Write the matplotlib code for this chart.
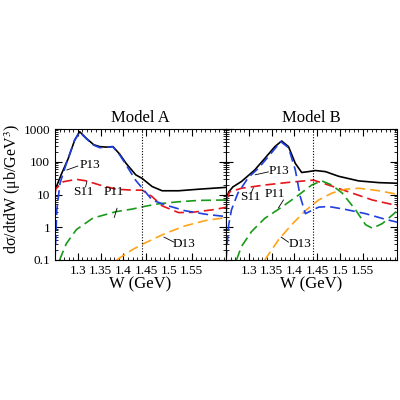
import matplotlib
matplotlib.use("Agg")
import matplotlib.pyplot as plt
from matplotlib.ticker import FixedLocator, MultipleLocator, FixedFormatter, LogLocator, NullFormatter

plt.rcParams["font.family"] = ["Liberation Serif", "DejaVu Serif"]
plt.rcParams["mathtext.fontset"] = "stix"

# ── Model A ──────────────────────────────────────────────
a_tot_w = [1.252, 1.265, 1.279, 1.293, 1.304, 1.319, 1.335, 1.348, 1.362, 1.377, 1.392, 1.406, 1.427, 1.441, 1.463, 1.485, 1.521, 1.565, 1.627]
a_tot_v = [16, 45, 125, 450, 830, 515, 330, 290, 280, 290, 170, 89, 40, 31, 17.5, 13, 13, 14.5, 16.6]

a_p13_w = [1.250, 1.254, 1.261, 1.275, 1.293, 1.304, 1.319, 1.335, 1.348, 1.362, 1.377, 1.392, 1.406, 1.427, 1.441, 1.463, 1.492, 1.535, 1.580, 1.627]
a_p13_v = [0.1, 3.4, 22, 89, 460, 800, 500, 320, 270, 275, 285, 160, 80, 27, 15.8, 6.8, 4.8, 3.2, 2.5, 2.1]

a_s11_w = [1.250, 1.252, 1.268, 1.297, 1.319, 1.348, 1.384, 1.420, 1.441, 1.463, 1.485, 1.521, 1.550, 1.595, 1.627]
a_s11_v = [10, 15, 24.5, 29, 26, 19.5, 14.5, 13.6, 13.6, 8.6, 4.5, 2.8, 2.85, 3.4, 4.1]

a_p11_w = [1.260, 1.275, 1.297, 1.333, 1.384, 1.420, 1.441, 1.477, 1.521, 1.565, 1.627]
a_p11_v = [0.1, 0.32, 0.85, 1.9, 3.0, 3.6, 4.2, 5.2, 6.0, 6.6, 6.8]

a_d13_w = [1.385, 1.418, 1.441, 1.492, 1.535, 1.580, 1.627]
a_d13_v = [0.1, 0.2, 0.3, 0.65, 1.1, 1.6, 2.0]

# ── Model B ──────────────────────────────────────────────
b_tot_w = [1.251, 1.253, 1.256, 1.265, 1.284, 1.313, 1.335, 1.357, 1.372, 1.387, 1.402, 1.416, 1.431, 1.446, 1.468, 1.497, 1.541, 1.586, 1.628]
b_tot_v = [6.5, 9, 12, 17, 25, 56, 126, 288, 430, 290, 89, 47, 50, 54, 50, 36, 26, 23, 22]

b_p13_w = [1.250, 1.256, 1.262, 1.276, 1.299, 1.321, 1.343, 1.370, 1.387, 1.402, 1.413, 1.424, 1.433, 1.453, 1.475, 1.512, 1.556, 1.600, 1.628]
b_p13_v = [0.1, 1.2, 3.4, 11, 33, 63, 144, 410, 270, 56, 8.5, 2.6, 3.0, 4.1, 4.3, 3.5, 2.6, 1.74, 1.4]

b_s11_w = [1.250, 1.253, 1.258, 1.284, 1.335, 1.394, 1.442, 1.482, 1.527, 1.571, 1.628]
b_s11_v = [2.4, 8, 12, 15.5, 19.5, 24, 27.5, 18, 11, 6.8, 4.5]

b_p11_w = [1.273, 1.284, 1.306, 1.335, 1.372, 1.409, 1.438, 1.460, 1.482, 1.505, 1.534, 1.556, 1.571, 1.593, 1.628]
b_p11_v = [0.1, 0.26, 0.74, 1.87, 4.1, 9.6, 19.5, 26, 19.5, 11, 3.4, 1.2, 0.93, 1.3, 3.4]

b_d13_w = [1.335, 1.365, 1.394, 1.424, 1.453, 1.482, 1.512, 1.541, 1.586, 1.628]
b_d13_v = [0.1, 0.41, 1.2, 3.2, 6.8, 11, 14.5, 15.5, 13, 10]

xticks = [1.3, 1.35, 1.4, 1.45, 1.5, 1.55]
xtick_labels = ["1.3", "1.35", "1.4", "1.45", "1.5", "1.55"]
yticks = [0.1, 1, 10, 100, 1000]
ytick_labels = ["0.1", "1", "10", "100", "1000"]

W_MIN, W_MAX = 1.25, 1.625
W_CUT = 1.44

fig = plt.figure(figsize=(4, 4), dpi=100)
ax_a = fig.add_axes([0.1375, 0.35, 0.4275, 0.3275])
ax_b = fig.add_axes([0.5650, 0.35, 0.4275, 0.3275])

models = [
    (ax_a, "Model A", a_tot_w, a_tot_v, a_p13_w, a_p13_v, a_s11_w, a_s11_v,
     a_p11_w, a_p11_v, a_d13_w, a_d13_v),
    (ax_b, "Model B", b_tot_w, b_tot_v, b_p13_w, b_p13_v, b_s11_w, b_s11_v,
     b_p11_w, b_p11_v, b_d13_w, b_d13_v),
]

dash = (0, (6, 3))
for ax, title, tw, tv, pw, pv, sw, sv, qw, qv, dw, dv in models:
    ax.set_yscale("log")
    ax.plot(tw, tv, color="black", lw=1.2)
    ax.plot(sw, sv, color="#e8141b", lw=1.2, ls=dash)
    ax.plot(qw, qv, color="#1a9a1a", lw=1.2, ls=dash)
    ax.plot(dw, dv, color="#ffa319", lw=1.2, ls=dash)
    ax.plot(pw, pv, color="#1f3fe0", lw=1.2, ls=dash)
    ax.axvline(W_CUT, color="black", lw=0.8, ls=(0, (1, 1.5)))
    ax.set_xlim(W_MIN, W_MAX)
    ax.set_ylim(0.1, 1000)
    ax.xaxis.set_major_locator(FixedLocator(xticks))
    ax.xaxis.set_major_formatter(FixedFormatter(xtick_labels))
    ax.xaxis.set_minor_locator(MultipleLocator(0.01))
    ax.yaxis.set_major_locator(FixedLocator(yticks))
    ax.yaxis.set_minor_locator(LogLocator(base=10, subs=range(2, 10)))
    ax.yaxis.set_minor_formatter(NullFormatter())
    ax.tick_params(which="both", direction="in", top=True, right=True, labelsize=9.5)
    ax.tick_params(which="major", length=5, width=0.8)
    ax.tick_params(which="minor", length=2.5, width=0.6)
    ax.set_xlabel("W (GeV)", fontsize=12, labelpad=0)
    ax.set_title(title, fontsize=12, pad=5)
    for sp in ax.spines.values():
        sp.set_linewidth(0.8)

ax_a.yaxis.set_major_formatter(FixedFormatter(ytick_labels))
ax_b.set_yticklabels([])
ax_a.set_ylabel("dσ/dtdW (μb/GeV$^3$)", fontsize=11.5)
ax_a.yaxis.set_label_coords(-0.19, 0.545)

# component labels with leader lines
lab_kw = dict(fontsize=9.5, ha="center", va="center")
ln_kw = dict(color="black", lw=0.6)

def tag(ax, text, txy, l0, l1):
    ax.text(txy[0], txy[1], text, **lab_kw)
    ax.plot([l0[0], l1[0]], [l0[1], l1[1]], **ln_kw)

tag(ax_a, "P13", (1.326, 79), (1.300, 74), (1.276, 56))
tag(ax_a, "S11", (1.311, 12), (1.317, 17), (1.320, 25))
tag(ax_a, "P11", (1.380, 12), (1.386, 3.8), (1.380, 2.0))
tag(ax_a, "D13", (1.533, 0.31), (1.511, 0.35), (1.489, 0.5))

tag(ax_b, "P13", (1.365, 52), (1.343, 49), (1.314, 40))
tag(ax_b, "S11", (1.303, 8.4), (1.305, 11), (1.310, 16))
tag(ax_b, "P11", (1.358, 10.4), (1.376, 6.8), (1.365, 3.9))
tag(ax_b, "D13", (1.413, 0.31), (1.387, 0.35), (1.371, 0.5))

fig.savefig("out.png", dpi=100)
